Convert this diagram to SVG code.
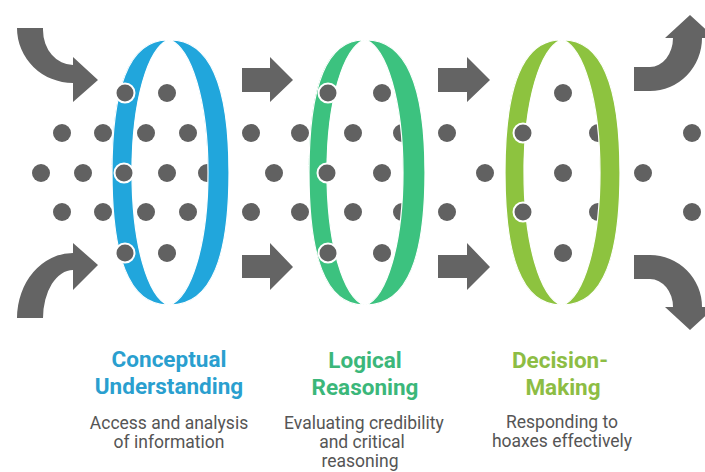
<svg xmlns="http://www.w3.org/2000/svg" width="705" height="472" viewBox="0 0 705 472">
  <style>
    .dot { fill: #616161; }
    .dot-front { fill: #616161; stroke: #ffffff; stroke-width: 2; }
    .arrow { fill: #646464; }
    .band { stroke: #ffffff; stroke-width: 1.2; }
    .blue { fill: #21a6dc; }
    .green { fill: #3cc27f; }
    .lime { fill: #8dc33f; }
    .title { font-family: Roboto, "Liberation Sans", sans-serif; font-weight: 700; font-size: 22.5px; text-anchor: middle; }
    .desc { font-family: Roboto, "Liberation Sans", sans-serif; font-size: 17.5px; fill: #555555; text-anchor: middle; }
  </style>
  <defs>
    <circle id="d" r="9" class="dot"/>
    <circle id="df" r="9.5" class="dot-front"/>
  </defs>

  <rect width="705" height="472" fill="#ffffff"/>

  <!-- flowing particles (behind the rings) -->
  <g id="particles">
    <use href="#d" x="167" y="93"/><use href="#d" x="382" y="93"/><use href="#d" x="563" y="93"/>
    <use href="#d" x="62" y="133"/><use href="#d" x="103" y="133"/><use href="#d" x="146" y="133"/><use href="#d" x="188" y="133"/>
    <use href="#d" x="251" y="133"/><use href="#d" x="300" y="133"/><use href="#d" x="353" y="133"/><use href="#d" x="402" y="133"/>
    <use href="#d" x="447" y="133"/><use href="#d" x="598" y="133"/><use href="#d" x="692" y="133"/>
    <use href="#d" x="41" y="173"/><use href="#d" x="83" y="173"/><use href="#d" x="167" y="173"/><use href="#d" x="207" y="173"/>
    <use href="#d" x="274" y="173"/><use href="#d" x="382" y="173"/><use href="#d" x="485" y="173"/><use href="#d" x="563" y="173"/>
    <use href="#d" x="643" y="173"/>
    <use href="#d" x="62" y="212"/><use href="#d" x="103" y="212"/><use href="#d" x="146" y="212"/><use href="#d" x="188" y="212"/>
    <use href="#d" x="251" y="212"/><use href="#d" x="300" y="212"/><use href="#d" x="353" y="212"/><use href="#d" x="402" y="212"/>
    <use href="#d" x="447" y="212"/><use href="#d" x="598" y="212"/><use href="#d" x="692" y="212"/>
    <use href="#d" x="167" y="253"/><use href="#d" x="382" y="253"/><use href="#d" x="563" y="253"/>
  </g>

  <!-- connectors: curved inflow/outflow arrows and straight arrows between stages -->
  <g id="connectors">
    <path class="arrow" d="M17,28 L43,28 L43,30 A30,35 0 0 0 73,65 L73,57 L98,80 L73,102 L73,83 A56,55 0 0 1 17,28 Z"/>
    <path class="arrow" d="M17,318 A56,65 0 0 1 73,253 L73,243 L98,265 L73,290 L73,270 A30,48 0 0 0 43,318 Z"/>
    <path class="arrow" d="M242,68 L270,68 L270,57 L293,80 L270,102 L270,92 L242,92 Z"/>
    <path class="arrow" d="M242,255 L270,255 L270,243 L293,267 L270,290 L270,278 L242,278 Z"/>
    <path class="arrow" d="M438,68 L467,68 L467,57 L490,80 L467,102 L467,92 L438,92 Z"/>
    <path class="arrow" d="M438,255 L467,255 L467,243 L490,267 L467,290 L467,278 L438,278 Z"/>
    <path class="arrow" d="M634,67 L650,67 A23,29 0 0 0 673,38 L665,38 L690,15 L715,38 L702,38 A52,53 0 0 1 650,91 L634,91 Z"/>
    <path class="arrow" d="M634,255 L650,255 A52,52 0 0 1 702,307 L715,307 L690,330 L665,307 L673,307 A23,28 0 0 0 650,279 L634,279 Z"/>
  </g>

  <!-- stage 1: ring made of two crescents -->
  <g id="conceptual-understanding">
    <path class="band blue" d="M168,40 C127.7,40 112,90.35 112,172.5 C112,254.65 127.7,305 168,305 C148.2,297 132,245.4 132,172.5 C132,99.6 148.2,48 168,40 Z"/>
    <path class="band blue" d="M170,40 C212.5,40 229,90.35 229,172.5 C229,254.65 212.5,305 170,305 C190.9,297 208,245.4 208,172.5 C208,99.6 190.9,48 170,40 Z"/>
    <use href="#df" x="125" y="93"/><use href="#df" x="124" y="173"/><use href="#df" x="125" y="253"/>
    <text class="title" fill="#2a9fcf"><tspan x="169" y="367">Conceptual</tspan><tspan x="169" y="394">Understanding</tspan></text>
    <text class="desc"><tspan x="169" y="429">Access and analysis</tspan><tspan x="169" y="448">of information</tspan></text>
  </g>

  <!-- stage 2 -->
  <g id="logical-reasoning">
    <path class="band green" d="M364,40 C324.4,40 309,90.35 309,172.5 C309,254.65 324.4,305 364,305 C343.65,297 327,245.4 327,172.5 C327,99.6 343.65,48 364,40 Z"/>
    <path class="band green" d="M366,40 C408.5,40 425,90.35 425,172.5 C425,254.65 408.5,305 366,305 C386.35,297 403,245.4 403,172.5 C403,99.6 386.35,48 366,40 Z"/>
    <use href="#df" x="328" y="93"/><use href="#df" x="327" y="173"/><use href="#df" x="328" y="253"/>
    <text class="title" fill="#3bb77a"><tspan x="365" y="368">Logical</tspan><tspan x="365" y="395">Reasoning</tspan></text>
    <text class="desc"><tspan x="364" y="429">Evaluating credibility</tspan><tspan x="362" y="448">and critical</tspan><tspan x="360" y="467">reasoning</tspan></text>
  </g>

  <!-- stage 3 -->
  <g id="decision-making">
    <path class="band lime" d="M561,40 C520.7,40 505,90.35 505,172.5 C505,254.65 520.7,305 561,305 C540.65,297 524,245.4 524,172.5 C524,99.6 540.65,48 561,40 Z"/>
    <path class="band lime" d="M563,40 C604,40 620,90.35 620,172.5 C620,254.65 604,305 563,305 C583.35,297 600,245.4 600,172.5 C600,99.6 583.35,48 563,40 Z"/>
    <use href="#df" x="523" y="133"/><use href="#df" x="523" y="212"/>
    <text class="title" fill="#8dbd44"><tspan x="560" y="368">Decision-</tspan><tspan x="563" y="395">Making</tspan></text>
    <text class="desc"><tspan x="562" y="428">Responding to</tspan><tspan x="562" y="447">hoaxes effectively</tspan></text>
  </g>
</svg>
